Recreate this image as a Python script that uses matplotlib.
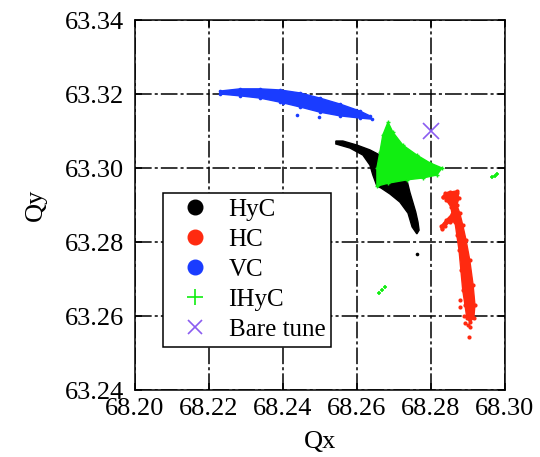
import matplotlib
matplotlib.use("Agg")
import matplotlib.pyplot as plt
from matplotlib.lines import Line2D

plt.rcParams["font.family"] = ["Liberation Serif", "DejaVu Serif"]
plt.rcParams["lines.scale_dashes"] = False

# ----------------------------
# tune-footprint outlines (Qx, Qy)
# ----------------------------
# VC: thin curved band at the top
vc_qx = [68.2230, 68.2284, 68.2338, 68.2392, 68.2446, 68.2500, 68.2554, 68.2608, 68.2635,
         68.2641, 68.2608, 68.2554, 68.2500, 68.2446, 68.2392, 68.2338, 68.2284, 68.2230]
vc_qy = [63.3208, 63.3214, 63.3214, 63.3211, 63.3203, 63.3189, 63.3173, 63.3154, 63.3141,
         63.3132, 63.3135, 63.3141, 63.3151, 63.3165, 63.3178, 63.3189, 63.3195, 63.3200]
vc_out_qx = [68.2438, 68.2497, 68.2400]
vc_out_qy = [63.3143, 63.3138, 63.3176]

# HyC: horn shaped footprint (partly under IHyC)
hyc_qx = [68.2543, 68.2562, 68.2600, 68.2635, 68.2662, 68.2735, 68.2743, 68.2751, 68.2759,
          68.2765, 68.2768, 68.2762, 68.2749, 68.2738, 68.2716, 68.2689, 68.2665, 68.2654,
          68.2643, 68.2635, 68.2616, 68.2581, 68.2543]
hyc_qy = [63.3073, 63.3073, 63.3062, 63.3049, 63.3035, 63.2968, 63.2935, 63.2908, 63.2881,
          63.2854, 63.2832, 63.2822, 63.2841, 63.2878, 63.2908, 63.2930, 63.2946, 63.2951,
          63.2981, 63.3008, 63.3035, 63.3054, 63.3065]
hyc_out_qx = [68.2762]
hyc_out_qy = [63.2768]

# HC: near-vertical band on the right with a blob and hook at its top
hc_qx = [68.2870, 68.2876, 68.2870, 68.2878, 68.2886, 68.2895, 68.2905, 68.2914, 68.2919,
         68.2916, 68.2905, 68.2897, 68.2892, 68.2886, 68.2881, 68.2876, 68.2870, 68.2865,
         68.2851, 68.2838, 68.2830, 68.2827, 68.2841, 68.2857, 68.2854, 68.2841, 68.2832,
         68.2838, 68.2851]
hc_qy = [63.2938, 63.2919, 63.2900, 63.2878, 63.2846, 63.2805, 63.2751, 63.2684, 63.2630,
         63.2595, 63.2584, 63.2595, 63.2630, 63.2670, 63.2724, 63.2778, 63.2819, 63.2854,
         63.2854, 63.2843, 63.2835, 63.2843, 63.2859, 63.2876, 63.2895, 63.2914, 63.2922,
         63.2932, 63.2935]
hc_pts_qx = [68.2832, 68.2846, 68.2870, 68.2865, 68.2838, 68.2830, 68.2878, 68.2878, 68.2892,
             68.2905, 68.2903, 68.2889, 68.2900]
hc_pts_qy = [63.2922, 63.2932, 63.2932, 63.2905, 63.2851, 63.2838, 63.2643, 63.2624, 63.2581,
             63.2570, 63.2543, 63.2600, 63.2575]

# IHyC: triangle plus two small islands
ihyc_qx = [68.2684, 68.2697, 68.2724, 68.2762, 68.2797, 68.2830, 68.2816, 68.2778,
           68.2735, 68.2684, 68.2654, 68.2654, 68.2662, 68.2670]
ihyc_qy = [63.3124, 63.3097, 63.3062, 63.3035, 63.3014, 63.3000, 63.2981, 63.2973,
           63.2968, 63.2959, 63.2951, 63.3000, 63.3043, 63.3089]
ihyc_isl_qx = [68.2965, 68.2972, 68.2978, 68.2659, 68.2667, 68.2676]
ihyc_isl_qy = [63.2976, 63.2979, 63.2984, 63.2662, 63.2670, 63.2678]

bare_qx = [68.28]
bare_qy = [63.31]

labels = ["HyC", "HC", "VC", "IHyC", "Bare tune"]

C_HYC, C_HC, C_VC, C_IHYC, C_BARE = "black", "#ff2a10", "#1a3cff", "#11ee11", "#8a5cf0"

# ----------------------------
# figure
# ----------------------------
fig = plt.figure(figsize=(5.40, 4.57), dpi=100)
ax = fig.add_axes([0.25, 0.1466, 0.685, 0.8096])

ax.fill(vc_qx, vc_qy, color=C_VC, lw=1, zorder=3)
ax.plot(vc_qx + vc_out_qx, vc_qy + vc_out_qy, "o", ms=2.6, color=C_VC, mew=0, zorder=3)

ax.fill(hyc_qx, hyc_qy, color=C_HYC, lw=1, zorder=4)
ax.plot(hyc_out_qx, hyc_out_qy, "o", ms=2.6, color=C_HYC, mew=0, zorder=4)

ax.fill(hc_qx, hc_qy, color=C_HC, lw=1, zorder=4)
ax.plot(hc_pts_qx + hc_qx, hc_pts_qy + hc_qy, "o", ms=3, color=C_HC, mew=0, zorder=4)

ax.fill(ihyc_qx, ihyc_qy, color=C_IHYC, lw=1, zorder=5)
ax.plot(ihyc_qx, ihyc_qy, "+", ms=3, mew=1, color=C_IHYC, zorder=5)
ax.plot(ihyc_isl_qx, ihyc_isl_qy, "+", ms=3, mew=1.2, color=C_IHYC, zorder=5)

ax.plot(bare_qx, bare_qy, "x", ms=11, mew=1.2, color=C_BARE, zorder=6)

ax.set_xlim(68.20, 68.30)
ax.set_ylim(63.24, 63.34)
ax.set_xticks([68.20, 68.22, 68.24, 68.26, 68.28, 68.30])
ax.set_yticks([63.24, 63.26, 63.28, 63.30, 63.32, 63.34])
ax.xaxis.set_major_formatter(plt.FormatStrFormatter("%.2f"))
ax.yaxis.set_major_formatter(plt.FormatStrFormatter("%.2f"))
ax.tick_params(direction="in", length=5, width=1.1, labelsize=19, top=True, right=True)
ax.tick_params(axis="y", pad=8)
ax.tick_params(axis="x", pad=6)
ax.grid(True, color="black", lw=1.1, linestyle=(0, (12, 2.2, 2.2, 2.2)), zorder=1)
ax.set_axisbelow(True)
for s in ax.spines.values():
    s.set_linewidth(1.1)

ax.set_xlabel("Qx", fontsize=19, labelpad=8)
ax.set_ylabel("Qy", fontsize=19, labelpad=13)

handles = [
    Line2D([], [], ls="", marker="o", ms=10.5, color=C_HYC),
    Line2D([], [], ls="", marker="o", ms=10.5, color=C_HC),
    Line2D([], [], ls="", marker="o", ms=10.5, color=C_VC),
    Line2D([], [], ls="", marker="+", ms=11, mew=1.2, color=C_IHYC),
    Line2D([], [], ls="", marker="x", ms=10, mew=1.2, color=C_BARE),
]
leg = ax.legend(handles, labels, loc="upper left", bbox_to_anchor=(0.0757, 0.532),
                borderaxespad=0, fontsize=18, fancybox=False, framealpha=1,
                edgecolor="black", handletextpad=0.3, labelspacing=0.3,
                borderpad=0.22, handlelength=2.1)
leg.get_frame().set_linewidth(1.1)
leg.set_zorder(10)

fig.savefig("out.png", dpi=100)
